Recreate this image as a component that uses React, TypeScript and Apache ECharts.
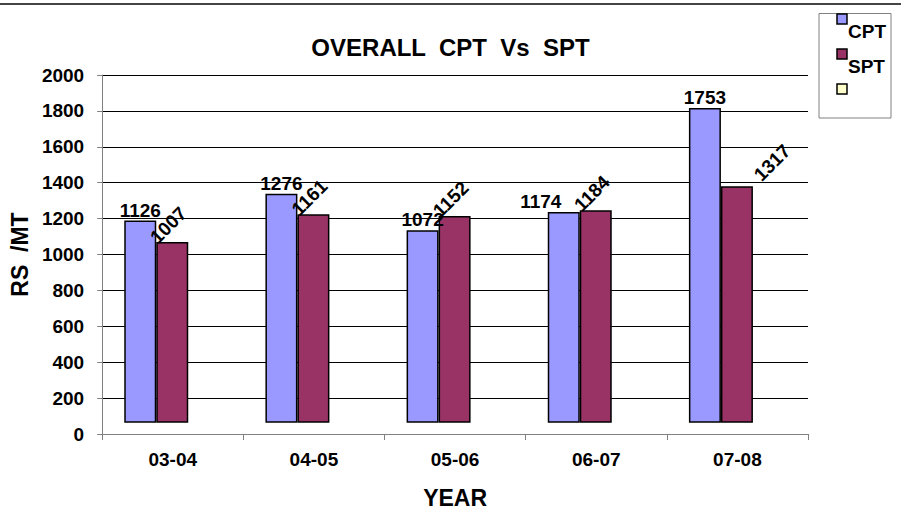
import React, { useEffect, useRef } from "react";
import * as echarts from "echarts";

const categories = ["03-04", "04-05", "05-06", "06-07", "07-08"];
const cptValues = [1126, 1276, 1072, 1174, 1753];
const sptValues = [1007, 1161, 1152, 1184, 1317];
const seriesNames = ["CPT", "SPT", ""];
const yMin = 0;
const yMax = 2000;
const yStep = 200;

// visual quirk of the original: the bars float above the zero line
const BAR_BASE = 63;
const COLORS = ["#9999FF", "#993366", "#FFFFCC"];
const FONT = "Liberation Sans, Arial, sans-serif";

export default function App() {
  const ref = useRef<HTMLDivElement>(null);
  useEffect(() => {
    if (!ref.current) return;
    const chart = echarts.init(ref.current, undefined, { renderer: "svg" });
    const base = categories.map(() => BAR_BASE);
    const cptLabelOffsets: Record<number, number[]> = { 3: [-23, 0] };
    const sptLabelOffsets: Record<number, number[]> = { 4: [34.5, 24.8] };
    const barStyle = (c: string) => ({ color: c, borderColor: "#000", borderWidth: 1.5 });
    const legendGraphics: any[] = [
      {
        type: "rect",
        shape: { x: 819, y: 13.5, width: 72, height: 104.5 },
        style: { fill: "#fff", stroke: "#808080", lineWidth: 1 },
        z: 10,
      },
    ];
    seriesNames.forEach((n, i) => {
      legendGraphics.push({
        type: "rect",
        shape: { x: 837, y: 14 + 35 * i, width: 10, height: 10 },
        style: { fill: COLORS[i], stroke: "#000", lineWidth: 1.5 },
        z: 11,
      });
      if (n) {
        legendGraphics.push({
          type: "text",
          x: 848,
          y: 31 + 35 * i,
          style: {
            text: n,
            font: `bold 19px ${FONT}`,
            fill: "#000",
            align: "left",
            verticalAlign: "middle",
          },
          z: 11,
        });
      }
    });

    chart.setOption({
      animation: false,
      textStyle: { fontFamily: FONT },
      title: {
        text: "OVERALL  CPT  Vs  SPT",
        left: "center",
        top: 30,
        textStyle: { fontSize: 24, fontWeight: "bold", color: "#000", fontFamily: FONT },
      },
      grid: { left: 96, right: 93, top: 75, bottom: 80 },
      xAxis: {
        type: "category",
        data: categories,
        boundaryGap: true,
        name: "YEAR",
        nameLocation: "middle",
        nameGap: 52,
        nameTextStyle: { fontSize: 23, fontWeight: "bold", color: "#000", fontFamily: FONT },
        axisLine: { lineStyle: { color: "#808080", width: 1 } },
        axisTick: { show: true, length: 6, lineStyle: { color: "#808080" } },
        axisLabel: { fontSize: 19, fontWeight: "bold", color: "#000", margin: 16, fontFamily: FONT },
        splitLine: { show: false },
      },
      yAxis: {
        type: "value",
        min: yMin,
        max: yMax,
        interval: yStep,
        name: "RS  /MT",
        nameLocation: "middle",
        nameRotate: 90,
        nameGap: 55,
        nameTextStyle: { fontSize: 23, fontWeight: "bold", color: "#000", fontFamily: FONT },
        axisLine: { show: true, lineStyle: { color: "#808080", width: 1 } },
        axisTick: { show: true, length: 5, lineStyle: { color: "#808080" } },
        axisLabel: {
          fontSize: 19,
          fontWeight: "bold",
          color: "#000",
          margin: 18,
          fontFamily: FONT,
          formatter: (v: number) => String(v),
        },
        splitLine: { show: true, lineStyle: { color: "#000", width: 1 } },
      },
      series: [
        {
          type: "bar",
          name: "baseCPT",
          stack: "cpt",
          data: base,
          barWidth: 32,
          barGap: "0%",
          silent: true,
          itemStyle: { color: "transparent", borderWidth: 0 },
        },
        {
          type: "bar",
          name: seriesNames[0],
          stack: "cpt",
          barWidth: 32,
          barGap: "0%",
          itemStyle: barStyle(COLORS[0]),
          data: cptValues.map((v, i) => ({
            value: v,
            label: cptLabelOffsets[i] ? { offset: cptLabelOffsets[i] } : undefined,
          })),
          label: {
            show: true,
            position: "top",
            distance: 1,
            fontSize: 19,
            fontWeight: "bold",
            color: "#000",
            fontFamily: FONT,
          },
        },
        {
          type: "bar",
          name: "baseSPT",
          stack: "spt",
          data: base,
          barWidth: 32,
          barGap: "0%",
          silent: true,
          itemStyle: { color: "transparent", borderWidth: 0 },
        },
        {
          type: "bar",
          name: seriesNames[1],
          stack: "spt",
          barWidth: 32,
          barGap: "0%",
          itemStyle: barStyle(COLORS[1]),
          data: sptValues.map((v, i) => ({
            value: v,
            label: { offset: sptLabelOffsets[i] || [2, 2] },
          })),
          label: {
            show: true,
            position: "top",
            distance: 10,
            rotate: 45,
            fontSize: 19,
            fontWeight: "bold",
            color: "#000",
            fontFamily: FONT,
          },
        },
        {
          type: "bar",
          name: "blank",
          stack: "blank",
          barWidth: 33,
          barGap: "0%",
          itemStyle: barStyle(COLORS[2]),
          data: [],
        },
      ],
      graphic: [
        {
          type: "line",
          shape: { x1: 0, y1: 4, x2: 901, y2: 4 },
          style: { stroke: "#444", lineWidth: 2 },
        },
        ...legendGraphics,
      ],
    });
    return () => chart.dispose();
  }, []);
  return (
    <div
      ref={ref}
      style={{ position: "absolute", left: 0, top: 0, width: 901, height: 514, background: "#fff" }}
    />
  );
}
